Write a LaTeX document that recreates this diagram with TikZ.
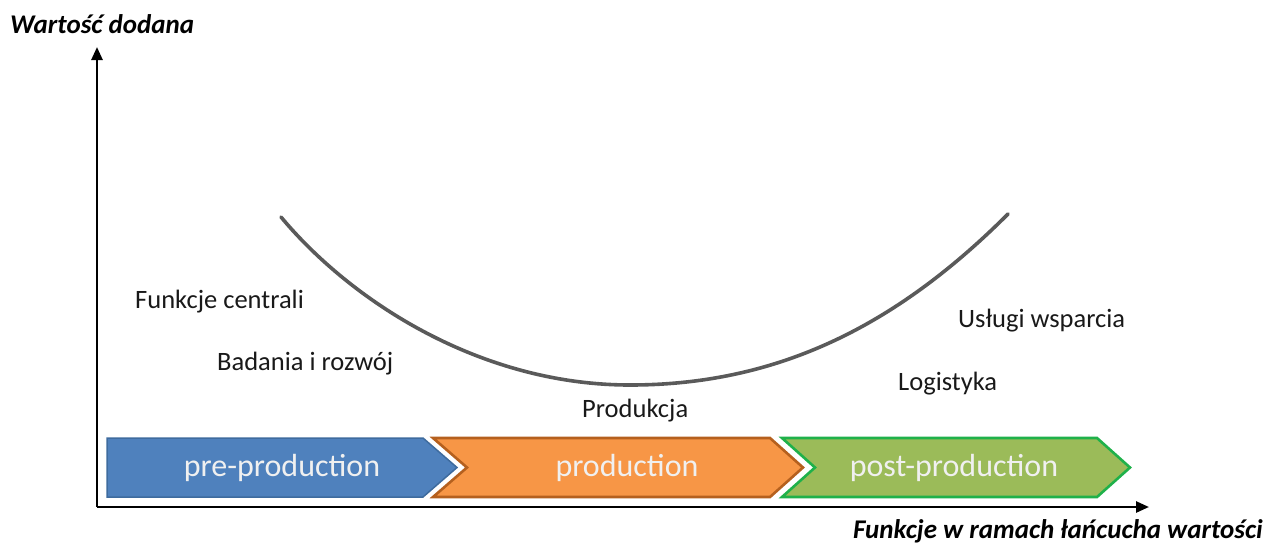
\documentclass[tikz,border=0pt]{standalone}
\usepackage{fontspec}
\setmainfont{Carlito}
\usetikzlibrary{arrows.meta}
\definecolor{cblue}{HTML}{4F81BD}
\definecolor{cblueb}{HTML}{3E6B9E}
\definecolor{corange}{HTML}{F79646}
\definecolor{coranb}{HTML}{B5601E}
\definecolor{cgreen}{HTML}{9BBB59}
\definecolor{cgreenb}{HTML}{1FB14A}
\definecolor{curvegray}{HTML}{5A5A5A}
\tikzset{
  axisline/.style={line width=2.6pt, black, -{Triangle[length=13pt,width=11pt]}},
  chevblue/.style={fill=cblue, draw=cblueb, line width=1.5pt, line join=miter},
  chevorange/.style={fill=corange, draw=coranb, line width=2.6pt, line join=miter},
  chevgreen/.style={fill=cgreen, draw=cgreenb, line width=2.6pt, line join=miter},
  chevtext/.style={text=white!94!black, font=\fontsize{32}{38}\selectfont, anchor=base, inner sep=0pt},
  lbl/.style={font=\fontsize{26.5}{31}\selectfont, anchor=base west, inner sep=0pt, text=black!90},
  axtitle/.style={font=\fontsize{27}{32}\selectfont\bfseries\itshape, inner sep=0pt},
  ucurve/.style={draw=curvegray, line width=3.6pt, line cap=round}
}
\begin{document}
\begin{tikzpicture}[x=1pt,y=-1pt]
\useasboundingbox (0,0) rectangle (1269,547);
% chevrons
\path[chevblue] (107,438) -- (423,438) -- (457,467.5) -- (423,497) -- (107,497) -- cycle;
\path[chevorange] (433,438) -- (770,438) -- (803,467.5) -- (770,497) -- (433,497) -- (467,467.5) -- cycle;
\path[chevgreen] (782,438) -- (1097,438) -- (1130,467.5) -- (1097,497) -- (782,497) -- (815,467.5) -- cycle;
\node[chevtext] (pre) at (282,476) {pre-production};
\node[chevtext] (prod) at (627,476) {production};
\node[chevtext] (post) at (954,476) {post-production};
% axes
\coordinate (O) at (97,507);
\coordinate (ytop) at (97,47);
\coordinate (xend) at (1149,507);
\draw[axisline] (O) -- (ytop);
\draw[axisline] (O) -- (xend);
\node[axtitle, anchor=base west] (ytitle) at (10,33) {Wartość dodana};
\node[axtitle, anchor=base east] (xtitle) at (1263,538) {Funkcje w ramach łańcucha wartości};
% smile curve
\coordinate (cs) at (281,217);
\coordinate (cm) at (630,385);
\coordinate (ce) at (1008,214);
\draw[ucurve] (cs) .. controls (351,301) and (480,385) .. (cm)
              .. controls (780,385) and (898,324) .. (ce);
% labels
\node[lbl] (fc) at (135,308) {Funkcje centrali};
\node[lbl] (br) at (217,370) {Badania i rozwój};
\node[lbl] (pr) at (582,417) {Produkcja};
\node[lbl] (lo) at (898,390) {Logistyka};
\node[lbl] (us) at (958,327) {Usługi wsparcia};
\end{tikzpicture}
\end{document}
